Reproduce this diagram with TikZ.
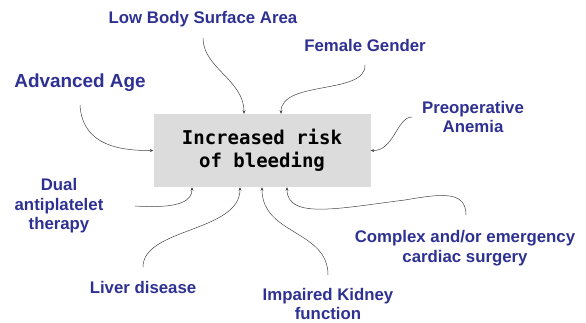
\documentclass[tikz,border=0pt]{standalone}
\usepackage{fontspec}
\setmainfont{Liberation Sans}
\newfontfamily\boxmono{DejaVu Sans Mono}
\usetikzlibrary{arrows.meta}
\definecolor{lblue}{HTML}{2E3192}
\definecolor{boxgray}{HTML}{DCDCDC}
\definecolor{arrgray}{HTML}{444444}
\tikzset{
  lbl/.style={text=lblue, font=\fontsize{16.8}{19.5}\selectfont\bfseries, align=center, inner sep=0pt},
  mainbox/.style={fill=boxgray, minimum width=217pt, minimum height=73pt, align=center, inner sep=0pt,
    font=\boxmono\fontsize{19}{23}\selectfont\bfseries},
  conn/.style={draw=arrgray, line width=0.5pt, -{Stealth[length=3.5pt,width=3pt]}}
}
\begin{document}
\begin{tikzpicture}[x=1pt,y=-1pt]
\useasboundingbox (0,0) rectangle (586,323);
\node[mainbox] (box) at (262,150.5) {Increased risk\\of bleeding};

\node[lbl] (lbsa) at (203,19) {Low Body Surface Area};
\node[lbl] (fem) at (365,45) {Female Gender};
\node[lbl, font=\fontsize{18.9}{22}\selectfont\bfseries] (age) at (80,83) {Advanced Age};
\node[lbl] (pre) at (473,117) {Preoperative\\Anemia};
\node[lbl] (dual) at (59,206) {Dual\\antiplatelet\\therapy};
\node[lbl] (liver) at (143,287) {Liver disease};
\node[lbl] (kid) at (328,304) {Impaired Kidney\\function};
\node[lbl] (cplx) at (465,248) {Complex and/or emergency\\cardiac surgery};

\coordinate (sAge) at (80,105);
\coordinate (sLbsa) at (203,38);
\coordinate (sFem) at (365,65);
\coordinate (sPre) at (412,117);
\coordinate (sDual) at (135,206);
\coordinate (sLiver) at (143,267);
\coordinate (sKid) at (328,275);
\coordinate (sCplx) at (466,215);
\coordinate (mCplx) at (405,200);

\draw[conn] (sAge) .. controls (82,140) and (110,151) .. (box.west);
\draw[conn] (sLbsa) .. controls (203,68) and (244,80) .. ([xshift=-18pt]box.north);
\draw[conn] (sFem) .. controls (366,95) and (281,80) .. ([xshift=19pt]box.north);
\draw[conn] (sPre) .. controls (397,117) and (394,151) .. (box.east);
\draw[conn] (sDual) .. controls (182,209) and (192,200) .. ([xshift=-70pt]box.south);
\draw[conn] (sLiver) .. controls (143,228) and (240,232) .. ([xshift=-22pt]box.south);
\draw[conn] (sKid) .. controls (328,230) and (262,235) .. (box.south);
\draw[conn] (sCplx) .. controls (466,190) and (440,194) .. (mCplx) .. controls (340,208) and (287,220) .. ([xshift=25pt]box.south);
\end{tikzpicture}
\end{document}
